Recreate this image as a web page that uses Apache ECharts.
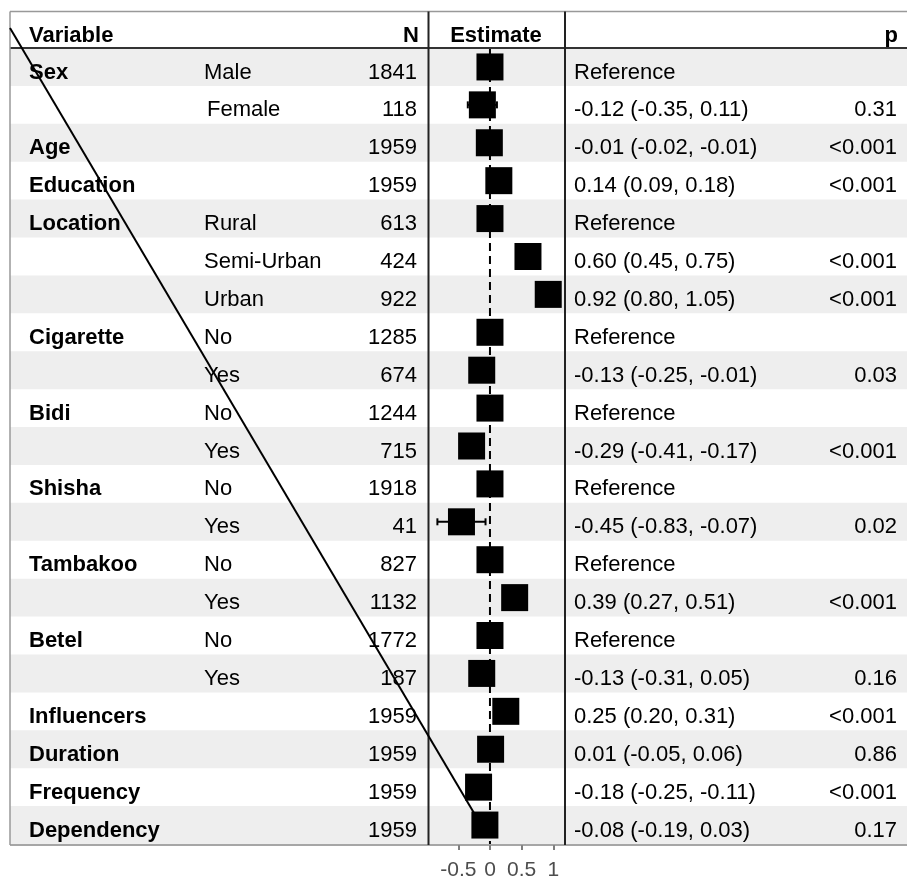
<!DOCTYPE html>
<html>
<head>
<meta charset="utf-8">
<script src="https://cdn.jsdelivr.net/npm/echarts@6/dist/echarts.min.js"></script>
<style>
html,body{margin:0;padding:0;background:#fff;}
#chart{width:907px;height:878px;}
</style>
</head>
<body>
<div id="chart"></div>
<script>
// ---- data ----
const variables = ["Sex","","Age","Education","Location","","","Cigarette","","Bidi","","Shisha","","Tambakoo","","Betel","","Influencers","Duration","Frequency","Dependency"];
const levels = ["Male","Female","","","Rural","Semi-Urban","Urban","No","Yes","No","Yes","No","Yes","No","Yes","No","Yes","","","",""];
const counts = [1841,118,1959,1959,613,424,922,1285,674,1244,715,1918,41,827,1132,1772,187,1959,1959,1959,1959];
const isReference = [true,false,false,false,true,false,false,true,false,true,false,true,false,true,false,true,false,false,false,false,false];
const estimates = [0,-0.12,-0.01,0.14,0,0.60,0.92,0,-0.13,0,-0.29,0,-0.45,0,0.39,0,-0.13,0.25,0.01,-0.18,-0.08];
const lower = [null,-0.35,-0.02,0.09,null,0.45,0.80,null,-0.25,null,-0.41,null,-0.83,null,0.27,null,-0.31,0.20,-0.05,-0.25,-0.19];
const upper = [null,0.11,-0.01,0.18,null,0.75,1.05,null,-0.01,null,-0.17,null,-0.07,null,0.51,null,0.05,0.31,0.06,-0.11,0.03];
const pValues = ["","0.31","<0.001","<0.001","","<0.001","<0.001","","0.03","","<0.001","","0.02","","<0.001","","0.16","<0.001","0.86","<0.001","0.17"];
const headers = ["Variable","N","Estimate","p"];
const xTicks = {min:-0.5, max:1, interval:0.5};

// ---- layout ----
const L = 10, R = 907, TOP = 11.5, HEAD = 48, BOT = 845;
const SEP1 = 428.5, SEP2 = 565;
const COL_VAR = 29, COL_LEVEL = 204, COL_N = 417, COL_EST = 574, COL_P = 897;
const FONT = '"Liberation Sans", Arial, Helvetica, sans-serif';
const FS = 22, TXT_DY = 5.5;
const BOX = 27;

const estText = estimates.map((e,i)=> isReference[i] ? "Reference" :
  e.toFixed(2) + " (" + lower[i].toFixed(2) + ", " + upper[i].toFixed(2) + ")");

const rows = variables.map((v,i)=>[0,i]);
const chart = echarts.init(document.getElementById('chart'), null, {renderer:'canvas'});

function txt(text, x, y, align, bold, color){
  return {type:'text', style:{text:text, x:x, y:y, align:align, verticalAlign:'middle',
    fill: color||'#000', fontSize:FS, fontWeight: bold?'bold':'normal', fontFamily:FONT}};
}

const option = {
  animation:false,
  grid:{left:458.3, width:95, top:HEAD, height:796, containLabel:false, outerBoundsMode:'none'},
  xAxis:{type:'value', min:xTicks.min, max:xTicks.max, interval:xTicks.interval, offset:1,
    axisLine:{show:false}, splitLine:{show:false},
    axisTick:{show:true, length:5, lineStyle:{color:'#555', width:1.5}},
    axisLabel:{color:'#4d4d4d', fontSize:21, fontFamily:FONT, margin:15}},
  yAxis:{type:'category', inverse:true, data:variables.map((v,i)=>String(i)), show:false},
  series:[
    { // alternating row bands
      type:'custom', z:0, clip:false, silent:true, data:rows,
      renderItem:function(params, api){
        const i = api.value(1);
        if (i % 2 !== 0) return null;
        const y = api.coord([0,i])[1];
        const h = api.size([0,1])[1];
        return {type:'rect', shape:{x:L, y:y-h/2, width:R-L, height:h}, style:{fill:'#eeeeee'}};
      }
    },
    { // table text
      type:'custom', z:2, clip:false, silent:true, data:rows,
      renderItem:function(params, api){
        const i = api.value(1);
        const y = api.coord([0,i])[1] + TXT_DY;
        const ch = [];
        if (variables[i]) ch.push(txt(variables[i], COL_VAR, y, 'left', true));
        if (levels[i]) ch.push(txt(levels[i], COL_LEVEL + (i===1?3:0), y, 'left', false));
        ch.push(txt(String(counts[i]), COL_N, y, 'right', false));
        ch.push(txt(estText[i], COL_EST, y, 'left', false));
        if (pValues[i]) ch.push(txt(pValues[i], COL_P, y, 'right', false));
        return {type:'group', children:ch};
      }
    },
    { // dashed zero line
      type:'custom', z:1, clip:false, silent:true, data:[[0,0]],
      renderItem:function(params, api){
        const h = api.size([0,1])[1];
        const top = api.coord([0,0]);
        const bot = api.coord([0,variables.length-1]);
        return {type:'line', shape:{x1:top[0], y1:top[1]-h/2, x2:bot[0], y2:bot[1]+h/2},
          style:{stroke:'#000', lineWidth:2, lineDash:[8,5]}};
      }
    },
    { // CIs and boxes
      type:'custom', z:3, clip:false, silent:true,
      data:estimates.map((e,i)=>[e,i,lower[i],upper[i]]),
      renderItem:function(params, api){
        const i = api.value(1);
        const c = api.coord([estimates[i], i]);
        const ch = [];
        if (lower[i] !== null){
          const a = api.coord([lower[i], i]), b = api.coord([upper[i], i]);
          ch.push({type:'line', shape:{x1:a[0], y1:a[1], x2:b[0], y2:b[1]}, style:{stroke:'#000', lineWidth:2}});
          ch.push({type:'line', shape:{x1:a[0], y1:a[1]-3.5, x2:a[0], y2:a[1]+3.5}, style:{stroke:'#000', lineWidth:2}});
          ch.push({type:'line', shape:{x1:b[0], y1:b[1]-3.5, x2:b[0], y2:b[1]+3.5}, style:{stroke:'#000', lineWidth:2}});
        }
        ch.push({type:'rect', shape:{x:c[0]-BOX/2, y:c[1]-BOX/2, width:BOX, height:BOX}, style:{fill:'#000'}});
        return {type:'group', children:ch};
      }
    }
  ],
  graphic:[
    {type:'line', z:10, shape:{x1:L, y1:TOP, x2:R, y2:TOP}, style:{stroke:'#999', lineWidth:1.5}},
    {type:'line', z:10, shape:{x1:L, y1:HEAD, x2:R, y2:HEAD}, style:{stroke:'#333', lineWidth:2}},
    {type:'line', z:10, shape:{x1:L, y1:BOT, x2:R, y2:BOT}, style:{stroke:'#888', lineWidth:1.5}},
    {type:'line', z:10, shape:{x1:L, y1:TOP, x2:L, y2:BOT}, style:{stroke:'#999', lineWidth:1.5}},
    {type:'line', z:10, shape:{x1:SEP1, y1:TOP, x2:SEP1, y2:BOT}, style:{stroke:'#222', lineWidth:2}},
    {type:'line', z:10, shape:{x1:SEP2, y1:TOP, x2:SEP2, y2:BOT}, style:{stroke:'#222', lineWidth:2}},
    {type:'text', z:10, style:{text:headers[0], x:COL_VAR, y:30+TXT_DY, align:'left', verticalAlign:'middle', fill:'#000', fontSize:FS, fontWeight:'bold', fontFamily:FONT}},
    {type:'text', z:10, style:{text:headers[1], x:COL_N+2, y:30+TXT_DY, align:'right', verticalAlign:'middle', fill:'#000', fontSize:FS, fontWeight:'bold', fontFamily:FONT}},
    {type:'text', z:10, style:{text:headers[2], x:496, y:30+TXT_DY, align:'center', verticalAlign:'middle', fill:'#000', fontSize:FS, fontWeight:'bold', fontFamily:FONT}},
    {type:'text', z:10, style:{text:headers[3], x:COL_P+1, y:30+TXT_DY, align:'right', verticalAlign:'middle', fill:'#000', fontSize:FS, fontWeight:'bold', fontFamily:FONT}},
    {type:'line', z:20, shape:{x1:L, y1:28, x2:474, y2:813}, style:{stroke:'#000', lineWidth:2}}
  ]
};
chart.setOption(option);
</script>
</body>
</html>
